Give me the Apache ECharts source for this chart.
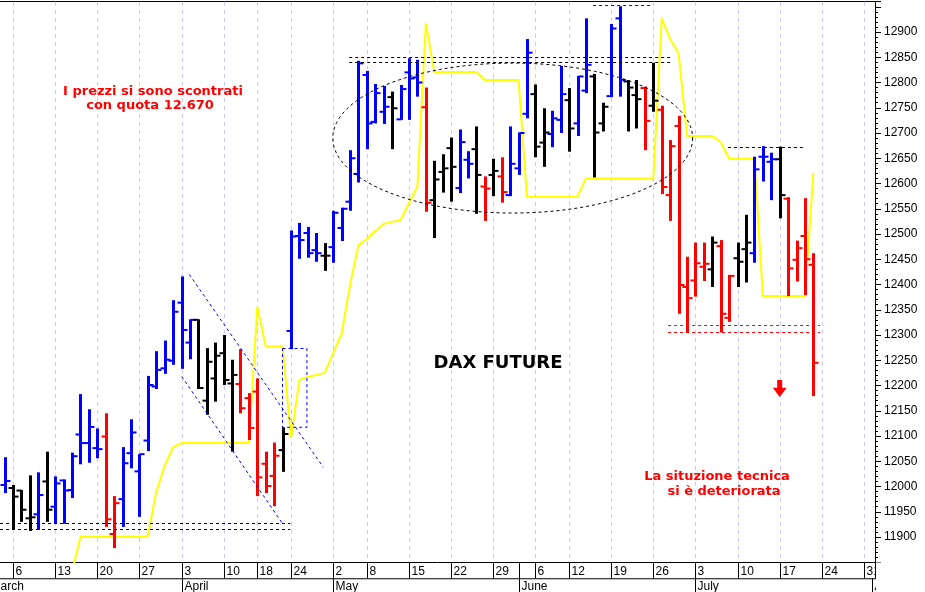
<!DOCTYPE html>
<html><head><meta charset="utf-8">
<script src="https://cdn.jsdelivr.net/npm/echarts@6/dist/echarts.min.js"></script>
<style>html,body{margin:0;padding:0;background:#fff}#c{width:925px;height:592px}</style>
</head><body><div id="c"></div>
<script>
// ---------- data ----------
const tradingDays = ['3/1','3/2','3/3','3/6','3/7','3/8','3/9','3/10','3/13','3/14','3/15','3/16','3/17','3/20','3/21','3/22','3/23','3/24','3/27','3/28','3/29','3/30','3/31',
'4/3','4/4','4/5','4/6','4/7','4/10','4/11','4/12','4/13','4/18','4/19','4/20','4/21','4/24','4/25','4/26','4/27','4/28',
'5/2','5/3','5/4','5/5','5/8','5/9','5/10','5/11','5/12','5/15','5/16','5/17','5/18','5/19','5/22','5/23','5/24','5/25','5/26','5/29','5/30','5/31',
'6/1','6/2','6/6','6/7','6/8','6/9','6/12','6/13','6/14','6/15','6/16','6/19','6/20','6/21','6/22','6/23','6/26','6/27','6/28','6/29','6/30',
'7/3','7/4','7/5','7/6','7/7','7/10','7/11','7/12','7/13','7/14','7/17','7/18','7/19','7/20','7/21','7/24','7/25','7/26','7/27','7/28','7/31','8/1'];

const weekStarts = ['3/6','3/13','3/20','3/27','4/3','4/10','4/18','4/24','5/2','5/8','5/15','5/22','5/29','6/6','6/12','6/19','6/26','7/3','7/10','7/17','7/24','7/31'];
const extraDaySeparators = ['6/1'];
const monthStarts = ['3/1','4/3','5/2','6/1','7/3','8/1'];
const monthNames = ['March','April','May','June','July','August'];

const yTickMin = 11900, yTickMax = 12900;

// OHLC bars (first bar 3/3, one per trading day through 7/21)
const barStart = '3/3';
const opens = [12003,11997,11992,11937,11945,12010,11960,12012,11993,12103,12086,12076,12099,11906,11975,12066,12030,12091,12198,12234,12249,
12364,12285,12330,12170,12214,12264,12204,12203,12175,12188,12045,12021,12072,12308,12496,12502,12468,12457,
12474,12512,12564,12619,12815,12722,12742,12771,12727,12820,12810,12751,12567,12623,12670,12591,12647,12668,12594,12617,12614,12577,
12630,12738,12777,12681,12698,12726,12765,12719,12784,12812,12719,12773,12927,12802,12775,12789,12754,12746,12577,12714,12395,
12408,12435,12430,12476,12334,12452,12470,12462,12653,12643,12648,12570,12449,12496,12439];
const highs = [12058,12003,11993,12022,12028,12069,12020,12014,12067,12183,12153,12115,12145,11981,12078,12133,12064,12219,12268,12289,12369,
12416,12331,12331,12274,12285,12300,12251,12272,12185,12214,12069,12087,12117,12507,12522,12514,12502,12482,
12546,12552,12666,12843,12823,12797,12793,12782,12795,12848,12845,12790,12645,12658,12691,12707,12664,12713,12614,12649,12652,12713,
12701,12886,12796,12749,12744,12833,12789,12813,12927,12817,12760,12916,12951,12805,12805,12792,12839,12754,12686,12734,12455,
12483,12483,12495,12488,12419,12483,12538,12653,12674,12661,12673,12573,12487,12571,12462];
const lows = [11987,11915,11930,11912,11914,11930,11927,11926,11977,12044,12047,12056,11920,11878,11920,12036,11940,12070,12193,12223,12241,
12233,12252,12193,12142,12168,12201,12069,12145,12092,11981,11987,11961,12029,12272,12451,12453,12445,12427,
12443,12486,12546,12602,12668,12719,12718,12668,12726,12726,12772,12544,12492,12582,12564,12581,12610,12540,12526,12575,12562,12575,
12617,12729,12652,12633,12672,12700,12663,12694,12779,12612,12703,12771,12772,12703,12709,12666,12742,12579,12526,12342,12305,
12376,12407,12395,12305,12326,12395,12404,12443,12604,12567,12531,12377,12406,12379,12179];
const closes = [12011,11980,11954,11939,11983,11954,12006,11992,12060,12086,12118,12074,11935,11967,12046,12107,12064,12201,12231,12251,12346,
12310,12330,12195,12247,12259,12211,12221,12155,12116,12018,12001,12061,12104,12495,12488,12462,12462,12457,
12542,12550,12650,12838,12719,12779,12752,12749,12787,12808,12800,12562,12608,12630,12633,12682,12639,12617,12590,12625,12583,12639,
12700,12859,12673,12701,12729,12777,12709,12812,12835,12701,12752,12907,12805,12790,12767,12724,12764,12593,12674,12399,12373,
12442,12441,12483,12342,12417,12445,12483,12628,12653,12648,12577,12432,12472,12450,12245];
const barColors = ['b','k','k','k','b','k','b','b','b','b','b','b','r','r','b','b','b','b','b','b','b',
'b','b','k','k','k','k','k','r','r','r','r','r','k','b','b','b','b','k',
'b','b','b','b','b','b','b','k','b','b','b','r','k','k','k','b','b','k','r','k','r','b',
'b','b','k','k','b','b','k','b','b','k','k','b','b','k','k','r','k','r','r','r','r',
'r','r','k','r','r','k','k','b','b','b','k','r','r','r','r'];

// yellow indicator line (first point 3/15)
const lineStart = '3/15';
const lineValues = [11830,11900,11900,11900,11900,11900,11900,11900,11900,11902,11989,12041,12078,
12086,12086,12086,12086,12086,12086,12086,12086,12086,12356,12277,12277,12277,12096,12211,12217,12221,12225,
12264,12302,12399,12478,12490,12506,12520,12524,12528,12561,12594,12917,12821,12821,12821,12821,12821,12821,12805,12805,12805,12805,
12805,12574,12574,12574,12574,12574,12574,12574,12610,12610,12610,12610,12610,12610,12610,12610,12610,12927,12886,12858,12694,
12694,12694,12694,12682,12649,12649,12649,12649,12377,12377,12377,12377,12377,12377,12621];

// ---------- scales ----------
const idx = d => tradingDays.indexOf(d);
const X_MIN = 1.457, X_MAX = 105.31;
const Y_MIN = 11850, Y_MAX = 12960;
const COLORS = {b:'#0000FF', k:'#000000', r:'#FF0000'};

const b0 = idx(barStart);
const barData = opens.map((o,k)=>[b0+k, o, highs[k], lows[k], closes[k]]);
const l0 = idx(lineStart);
const lineData = lineValues.map((v,k)=>[l0+k, v]);

// annotation geometry (data coordinates: trading-day index, price)
const dashLines = [
  [1.46,11927,35.9,11927,'#000'],[1.46,11916,35.9,11916,'#000'],
  [42.9,12851,81.0,12851,'#000'],[42.9,12841,81.0,12841,'#000'],
  [71.85,12953,78.85,12953,'#0000FF'],
  [87.85,12673,96.75,12673,'#000'],
  [80.75,12320,98.8,12320,'#FF0000'],[80.75,12305,98.8,12305,'#FF0000'],
  [23.92,12420,39.83,12038,'#0000FF'],[23.02,12218,34.93,11928,'#0000FF']
];
const boxRect = [34.96,12274,37.86,12118];
const ellipse = {cx:62.31, cy:12690, rx:21.36, ry:148.5};
const arrow = {d:94, top:12211, bottom:12177};

const FONT = '12px "Liberation Sans", Arial, sans-serif';

function renderBar(params, api){
  const i = api.value(0);
  const pO = api.coord([i, api.value(1)]), pH = api.coord([i, api.value(2)]);
  const pL = api.coord([i, api.value(3)]), pC = api.coord([i, api.value(4)]);
  const col = COLORS[barColors[params.dataIndex]];
  const x = Math.round(pH[0]) + 0.5;
  return {type:'group', children:[
    {type:'line', shape:{x1:x,y1:pH[1],x2:x,y2:pL[1]}, style:{stroke:col,lineWidth:3}},
    {type:'line', shape:{x1:x-5,y1:pO[1],x2:x,y2:pO[1]}, style:{stroke:col,lineWidth:2}},
    {type:'line', shape:{x1:x,y1:pC[1],x2:x+5,y2:pC[1]}, style:{stroke:col,lineWidth:2}}
  ]};
}

function renderWeek(params, api){
  const i = api.value(0);
  const t = api.coord([i, Y_MAX]), b = api.coord([i, Y_MIN]);
  const x = Math.round(t[0]) + 0.5, yb = b[1];
  const ch = [
    {type:'line', shape:{x1:x,y1:t[1],x2:x,y2:yb}, style:{stroke:'#C9C9F2',lineWidth:1,lineDash:[4,4]}},
    {type:'line', shape:{x1:x,y1:yb,x2:x,y2:yb+16}, style:{stroke:'#000',lineWidth:1}},
    {type:'text', style:{text:weekStarts[params.dataIndex].split('/')[1], x:x+2, y:yb+9, fill:'#000', font:FONT, align:'left', verticalAlign:'middle'}}
  ];
  if (params.dataIndex === 0){
    const a = api.coord([X_MIN, Y_MIN]), z = api.coord([X_MAX, Y_MIN]);
    ch.push({type:'line', shape:{x1:a[0],y1:yb+16.5,x2:z[0]+1,y2:yb+16.5}, style:{stroke:'#000',lineWidth:1}});
  }
  return {type:'group', children:ch};
}

function renderMonth(params, api){
  const i = api.value(0);
  const b = api.coord([i, Y_MIN]);
  const x = Math.round(b[0]) + 0.5, yb = b[1];
  const ch = [
    {type:'line', shape:{x1:x,y1:yb+16,x2:x,y2:yb+32}, style:{stroke:'#000',lineWidth:1}},
    {type:'text', style:{text:monthNames[params.dataIndex], x:x+2, y:yb+24.5, fill:'#000', font:FONT, align:'left', verticalAlign:'middle'}}
  ];
  if (extraDaySeparators.indexOf(monthStarts[params.dataIndex]) >= 0)
    ch.push({type:'line', shape:{x1:x,y1:yb,x2:x,y2:yb+16}, style:{stroke:'#000',lineWidth:1}});
  return {type:'group', children:ch};
}

function renderAnno(params, api){
  const P = (d,v) => api.coord([d,v]);
  const ch = [];
  dashLines.forEach(([d1,v1,d2,v2,c])=>{
    const a=P(d1,v1), b=P(d2,v2);
    const ya = Math.abs(a[1]-b[1])<0.5 ? Math.round(a[1])+0.5 : a[1];
    const yb2 = Math.abs(a[1]-b[1])<0.5 ? ya : b[1];
    ch.push({type:'line', shape:{x1:a[0],y1:ya,x2:b[0],y2:yb2}, style:{stroke:c,lineWidth:1,lineDash:[3,3]}});
  });
  const r1 = P(boxRect[0],boxRect[1]), r2 = P(boxRect[2],boxRect[3]);
  ch.push({type:'rect', shape:{x:Math.round(r1[0])+0.5,y:Math.round(r1[1])+0.5,width:r2[0]-r1[0],height:r2[1]-r1[1]}, style:{fill:null,stroke:'#0000FF',lineWidth:1,lineDash:[3,3]}});
  const c = P(ellipse.cx, ellipse.cy);
  const rx = api.size([ellipse.rx,0])[0], ry = api.size([0,ellipse.ry])[1];
  const pts = [];
  for (let k=0;k<=120;k++){ const t=k/120*Math.PI*2; pts.push([c[0]+rx*Math.cos(t), c[1]+ry*Math.sin(t)]); }
  ch.push({type:'polyline', shape:{points:pts}, style:{stroke:'#000',fill:null,lineWidth:1,lineDash:[3,3]}});
  const at = P(arrow.d, arrow.top), ab = P(arrow.d, arrow.bottom);
  const ax = at[0], h = ab[1]-at[1];
  ch.push({type:'polygon', shape:{points:[[ax-2.5,at[1]],[ax+2.5,at[1]],[ax+2.5,at[1]+h*0.45],[ax+7,at[1]+h*0.45],[ax,ab[1]],[ax-7,at[1]+h*0.45],[ax-2.5,at[1]+h*0.45]]}, style:{fill:'#FF0000'}});
  return {type:'group', children:ch};
}

const chart = echarts.init(document.getElementById('c'), null, {renderer:'canvas'});
chart.setOption({
  animation:false,
  backgroundColor:'#fff',
  grid:{left:0,right:50,top:1.7,bottom:29.75,containLabel:false,outerBoundsMode:'none'},
  xAxis:[
    {type:'value',min:X_MIN,max:X_MAX,position:'bottom',axisLine:{show:true,lineStyle:{color:'#000',width:1}},axisTick:{show:false},axisLabel:{show:false},splitLine:{show:false}},
    {type:'value',min:X_MIN,max:X_MAX,position:'top',axisLine:{show:true,lineStyle:{color:'#000',width:1}},axisTick:{show:false},axisLabel:{show:false},splitLine:{show:false}}
  ],
  yAxis:{type:'value',position:'right',min:Y_MIN,max:Y_MAX,interval:50,
    axisLine:{show:true,lineStyle:{color:'#000',width:1}},
    axisTick:{show:true,length:6,lineStyle:{color:'#000'}},
    minorTick:{show:true,splitNumber:5,length:3,lineStyle:{color:'#000'}},
    splitLine:{show:false},
    axisLabel:{margin:9,color:'#000',fontSize:12,fontFamily:'"Liberation Sans", Arial, sans-serif',
      formatter:v => (v<yTickMin||v>yTickMax)?'':String(v)}},
  series:[
    {type:'custom',name:'weeks',z:1,clip:false,data:weekStarts.map(d=>[idx(d)]),renderItem:renderWeek,silent:true},
    {type:'custom',name:'months',z:1,clip:false,data:monthStarts.map(d=>[idx(d)]),renderItem:renderMonth,silent:true},
    {type:'line',name:'indicator',z:2,data:lineData,showSymbol:false,symbol:'none',lineStyle:{color:'#FFFF00',width:2},clip:true,silent:true},
    {type:'custom',name:'DAX',z:3,data:barData,renderItem:renderBar,encode:{x:0,y:[1,2,3,4]},silent:true},
    {type:'custom',name:'anno',z:4,clip:false,data:[[0,0]],renderItem:renderAnno,silent:true}
  ],
  graphic:[
    {type:'rect',z:100,shape:{x:876,y:562.5,width:49,height:30},style:{fill:'#fff'}},
    {type:'line',z:101,shape:{x1:875.5,y1:562,x2:875.5,y2:578},style:{stroke:'#000',lineWidth:1}},
    {type:'text',z:50,style:{text:'I prezzi si sono scontrati',x:153,y:92,fill:'#FF0000',font:'bold 13px "DejaVu Sans", Verdana, sans-serif',align:'center',verticalAlign:'middle'}},
    {type:'text',z:50,style:{text:'con quota 12.670',x:150,y:106,fill:'#FF0000',font:'bold 13px "DejaVu Sans", Verdana, sans-serif',align:'center',verticalAlign:'middle'}},
    {type:'text',z:50,style:{text:'DAX FUTURE',x:498,y:363,fill:'#000',font:'bold 18px "DejaVu Sans", Verdana, sans-serif',align:'center',verticalAlign:'middle'}},
    {type:'text',z:50,style:{text:'La situzione tecnica',x:717,y:477,fill:'#FF0000',font:'bold 13px "DejaVu Sans", Verdana, sans-serif',align:'center',verticalAlign:'middle'}},
    {type:'text',z:50,style:{text:'si è deteriorata',x:724,y:492,fill:'#FF0000',font:'bold 13px "DejaVu Sans", Verdana, sans-serif',align:'center',verticalAlign:'middle'}}
  ]
});
</script></body></html>
